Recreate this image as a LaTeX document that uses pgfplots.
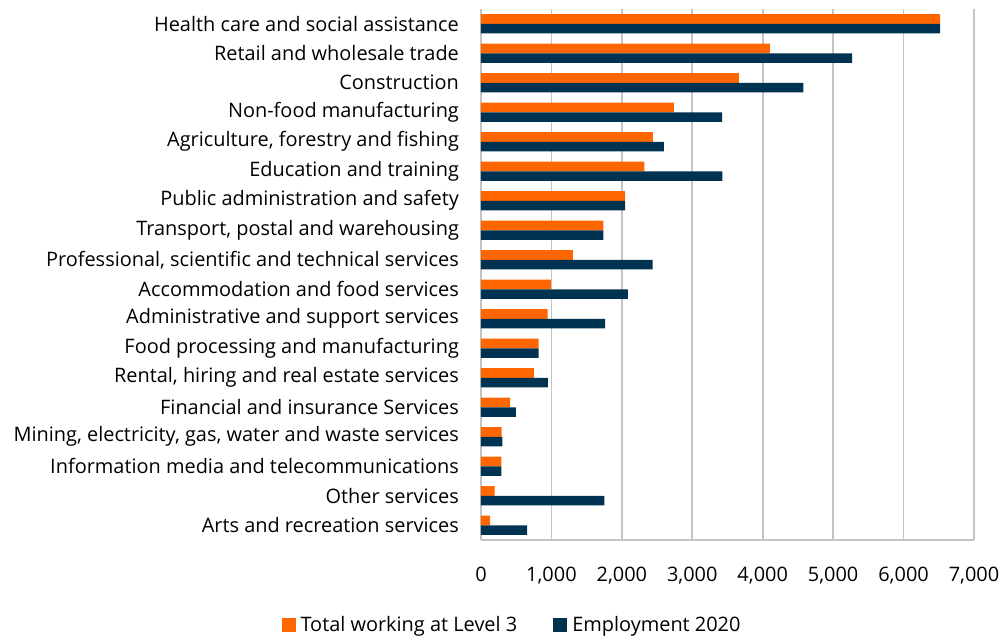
\documentclass[border=0pt]{standalone}
\usepackage{fontspec}
\setmainfont{Open Sans}
\usepackage{pgfplots}
\pgfplotsset{compat=1.18}
\definecolor{orng}{HTML}{FF6600}
\definecolor{navy}{HTML}{003252}
\definecolor{grd}{HTML}{C4C4C4}
\begin{document}
\fontsize{20}{24}\selectfont
\begin{tikzpicture}
\useasboundingbox (0,0) rectangle (1000bp,636bp);
\begin{axis}[
  at={(481bp,96bp)}, anchor=south west,
  scale only axis, width=493bp, height=531bp,
  xbar, bar width=9.6bp,
  y dir=reverse,
  xmin=0, xmax=7000,
  ymin=-0.5, ymax=17.5,
  xtick={0,1000,...,7000},
  ytick={0,...,17},
  yticklabels={{Health care and social assistance},{Retail and wholesale trade},{Construction},{Non-food manufacturing},{Agriculture, forestry and fishing},{Education and training},{Public administration and safety},{Transport, postal and warehousing},{Professional, scientific and technical services},{Accommodation and food services},{Administrative and support services},{Food processing and manufacturing},{Rental, hiring and real estate services},{Financial and insurance Services},{Mining, electricity, gas, water and waste services},{Information media and telecommunications},{Other services},{Arts and recreation services}},
  /pgf/number format/assume math mode=true,
  /pgf/number format/1000 sep={,},
  xmajorgrids, grid style={grd, line width=1.6bp},
  axis x line*=bottom, axis y line*=left,
  x axis line style={grd, line width=1.6bp, -},
  y axis line style={grd, line width=1.6bp, -},
  tick style={draw=none},
  yticklabel style={font=\fontsize{20}{24}\selectfont, xshift=-11bp},
  xticklabel style={font=\fontsize{20}{24}\selectfont, yshift=-20bp},
  legend style={at={(0.063,-0.161)}, anchor=center, draw=none, legend columns=2,
    font=\fontsize{20}{24}\selectfont, /tikz/every even column/.append style={column sep=34bp},
    /tikz/every odd column/.append style={column sep=3bp}},
  legend image code/.code={\fill[#1] (0bp,-7bp) rectangle (14bp,7bp);},
]
\addplot[fill=orng, draw=none, bar shift=4.8bp] coordinates {
(6520,0) (4100,1) (3660,2) (2740,3) (2440,4) (2320,5) (2047,6) (1738,7) (1306,8) (992,9) (945,10) (817,11) (750,12) (413,13) (294,14) (290,15) (195,16) (128,17)};
\addplot[fill=navy, draw=none, bar shift=-4.8bp] coordinates {
(6520,0) (5270,1) (4577,2) (3424,3) (2597,4) (3428,5) (2047,6) (1738,7) (2436,8) (2085,9) (1762,10) (817,11) (950,12) (494,13) (304,14) (290,15) (1752,16) (655,17)};
\legend{Total working at Level 3, Employment 2020}
\end{axis}
\end{tikzpicture}
\end{document}
